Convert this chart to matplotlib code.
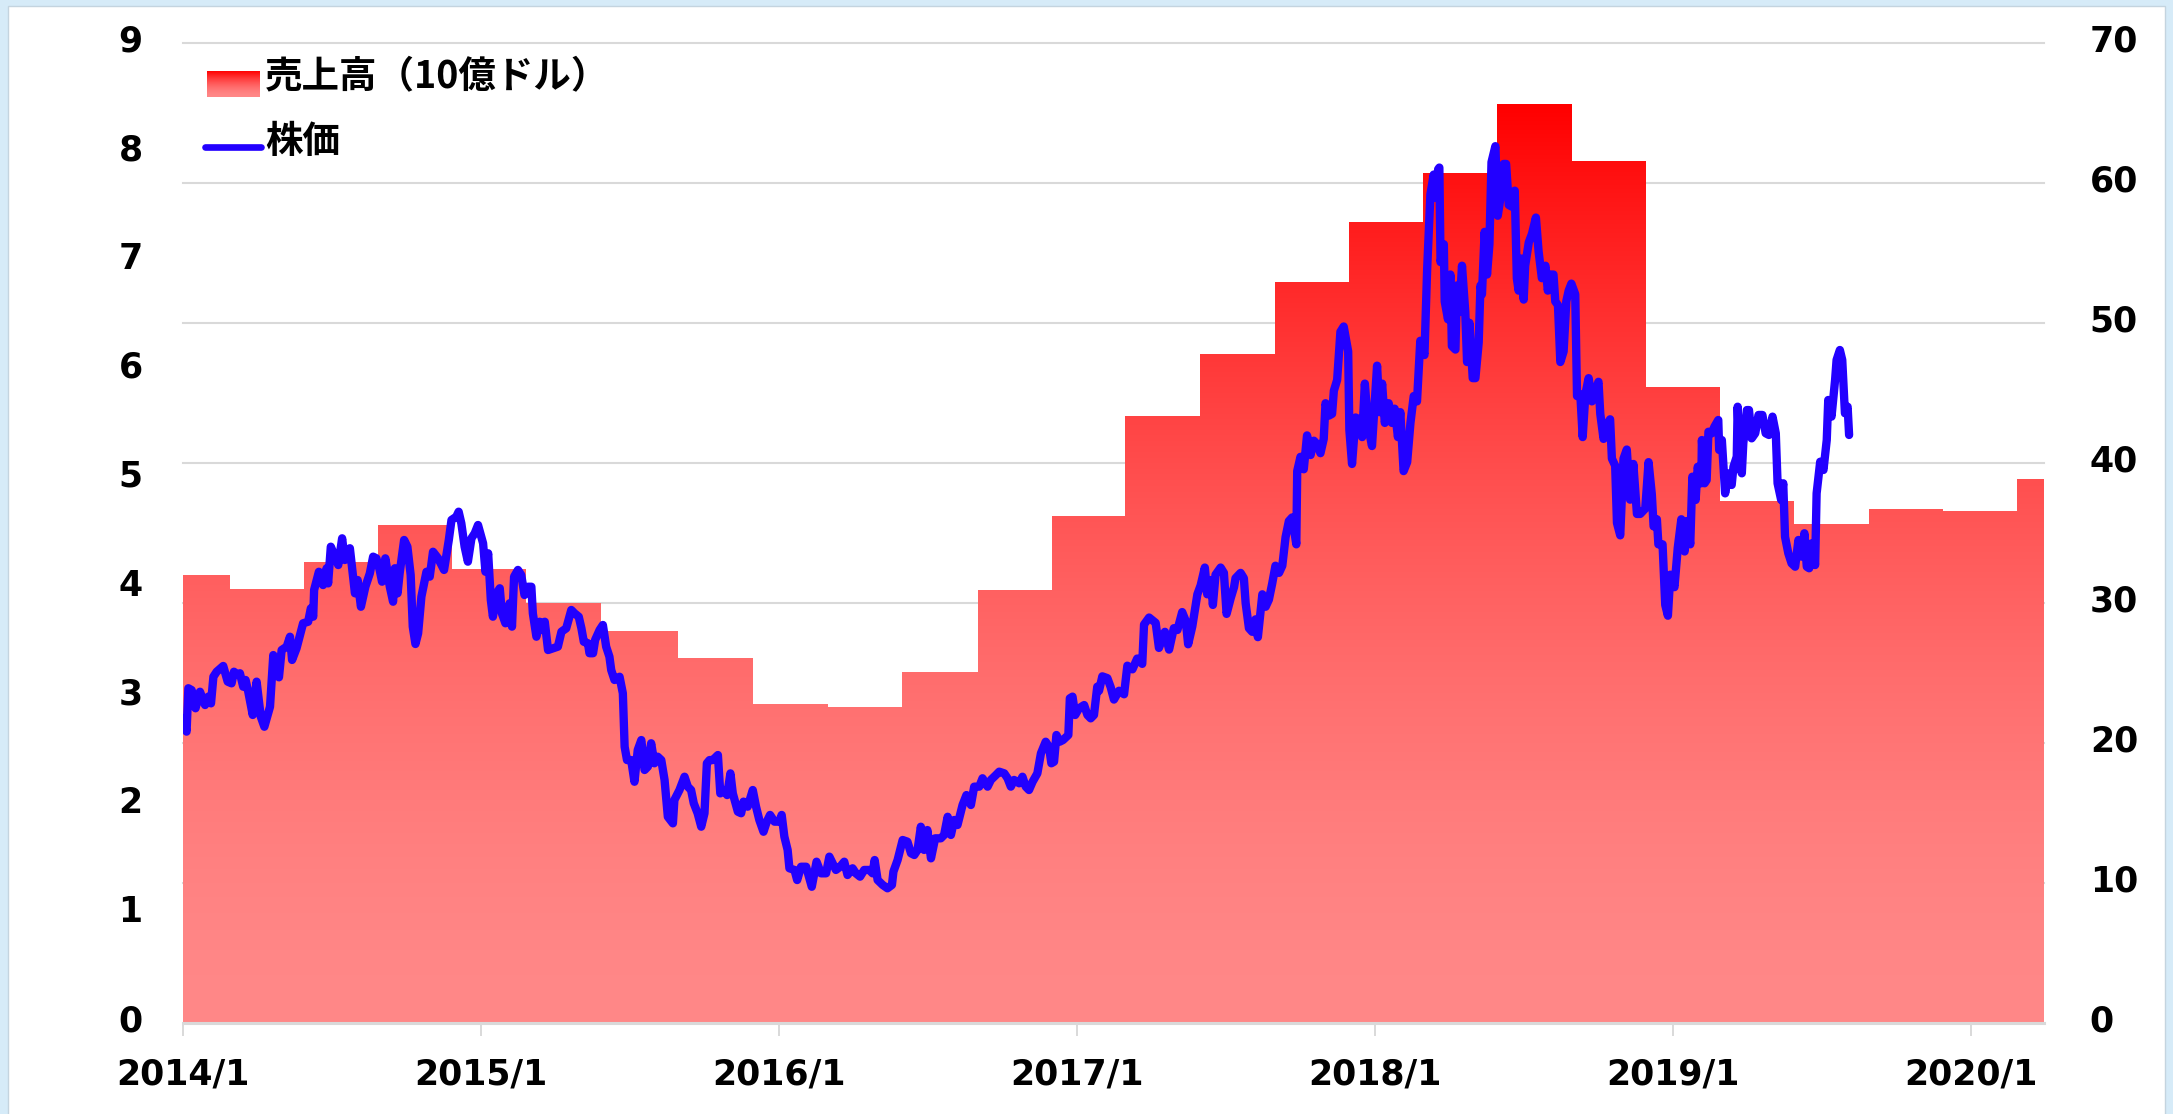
import matplotlib
matplotlib.use('Agg')

import matplotlib.pyplot as plt
import matplotlib.dates as mdates
import matplotlib.transforms as mtransforms
from matplotlib.patches import Rectangle
from matplotlib.lines import Line2D
import numpy as np
import pandas as pd

#=====Data=====
# quarterly revenue (billion USD), each value holds from its date to the next one
rev_dates = ['2014-01-01', '2014-02-27', '2014-05-29', '2014-08-28', '2014-11-27',
             '2015-02-26', '2015-05-28', '2015-08-31', '2015-12-01', '2016-03-01',
             '2016-05-31', '2016-09-01', '2016-12-01', '2017-03-01', '2017-06-01',
             '2017-08-31', '2017-11-30', '2018-03-01', '2018-05-31', '2018-08-30',
             '2018-11-29', '2019-02-28', '2019-05-30', '2019-08-29', '2019-11-28',
             '2020-02-27']
rev_values = [4.11, 3.98, 4.23, 4.57, 4.17, 3.85, 3.60, 3.35, 2.93, 2.90,
              3.22, 3.97, 4.65, 5.57, 6.14, 6.80, 7.35, 7.80, 8.44, 7.91,
              5.84, 4.79, 4.58, 4.72, 4.70, 4.99]
rev_end = '2020-03-31'

# share price: time in years since 2014/1/1, price in USD
price_years = [
    0.001, 0.012, 0.018, 0.029, 0.042, 0.057, 0.074, 0.085, 0.094, 0.102, 0.113, 0.135,
    0.150, 0.163, 0.171, 0.183, 0.191, 0.202, 0.210, 0.219, 0.234, 0.247, 0.261, 0.273,
    0.292, 0.303, 0.314, 0.322, 0.331, 0.348, 0.359, 0.366, 0.381, 0.403, 0.420, 0.429,
    0.437, 0.440, 0.456, 0.470, 0.482, 0.487, 0.496, 0.510, 0.521, 0.534, 0.543, 0.560,
    0.577, 0.586, 0.597, 0.612, 0.627, 0.638, 0.649, 0.660, 0.668, 0.679, 0.694, 0.705,
    0.711, 0.720, 0.727, 0.742, 0.753, 0.764, 0.771, 0.780, 0.789, 0.800, 0.817, 0.828,
    0.839, 0.856, 0.876, 0.884, 0.892, 0.901, 0.917, 0.925, 0.934, 0.945, 0.956, 0.968,
    0.979, 0.990, 1.007, 1.015, 1.024, 1.033, 1.040, 1.052, 1.063, 1.070, 1.082, 1.096,
    1.104, 1.111, 1.124, 1.135, 1.146, 1.158, 1.169, 1.174, 1.186, 1.197, 1.202, 1.214,
    1.225, 1.241, 1.258, 1.270, 1.286, 1.303, 1.314, 1.328, 1.337, 1.345, 1.359, 1.364,
    1.376, 1.383, 1.398, 1.409, 1.420, 1.431, 1.437, 1.448, 1.465, 1.476,
    1.482, 1.490, 1.504, 1.515, 1.526, 1.538, 1.549, 1.560, 1.571, 1.582, 1.593, 1.605,
    1.616, 1.627, 1.644, 1.649, 1.666, 1.683, 1.694, 1.705, 1.714, 1.727, 1.739, 1.750,
    1.758, 1.767, 1.778, 1.795, 1.803, 1.817, 1.826, 1.837, 1.845, 1.862, 1.873, 1.881,
    1.895, 1.912, 1.923, 1.934, 1.948, 1.959, 1.970, 1.985, 2.001, 2.009, 2.018, 2.029,
    2.035, 2.052, 2.061, 2.074, 2.091, 2.110, 2.126, 2.141, 2.158, 2.169, 2.180, 2.191,
    2.205, 2.219, 2.230, 2.247, 2.258, 2.272, 2.286, 2.303, 2.314, 2.321, 2.331, 2.348,
    2.364, 2.379, 2.384, 2.398, 2.415, 2.431, 2.443, 2.454, 2.465, 2.476, 2.487, 2.498,
    2.510, 2.524, 2.543, 2.554, 2.566, 2.577, 2.588, 2.599, 2.616, 2.629, 2.644, 2.655,
    2.672, 2.683, 2.700, 2.711, 2.728, 2.739, 2.756, 2.767, 2.778, 2.789, 2.806, 2.817,
    2.828, 2.839, 2.851, 2.867, 2.879, 2.895, 2.906, 2.914, 2.923, 2.931, 2.942, 2.953,
    2.971, 2.976, 2.985, 2.994, 3.007, 3.024, 3.035, 3.046, 3.057, 3.068,
    3.074, 3.085, 3.102, 3.113, 3.124, 3.141, 3.158, 3.169, 3.186, 3.202, 3.219, 3.225,
    3.242, 3.264, 3.275, 3.295, 3.309, 3.325, 3.337, 3.353, 3.365, 3.373, 3.387, 3.404,
    3.415, 3.429, 3.437, 3.449, 3.456, 3.465, 3.482, 3.493, 3.502, 3.516, 3.527, 3.532,
    3.549, 3.560, 3.566, 3.577, 3.588, 3.599, 3.607, 3.622, 3.633, 3.644, 3.655, 3.666,
    3.678, 3.689, 3.700, 3.711, 3.722, 3.736, 3.739, 3.750, 3.761, 3.772, 3.784, 3.795,
    3.806, 3.817, 3.828, 3.834, 3.845, 3.856, 3.862, 3.873, 3.884, 3.895, 3.910, 3.914,
    3.923, 3.935, 3.946, 3.957, 3.966, 3.977, 3.990, 4.007, 4.015, 4.024, 4.033, 4.046,
    4.057, 4.066, 4.077, 4.085, 4.096, 4.108, 4.119, 4.130, 4.141, 4.152, 4.166, 4.175,
    4.186,
    4.197, 4.205, 4.212, 4.216, 4.220, 4.231, 4.234, 4.245, 4.253, 4.258, 4.270, 4.275,
    4.283, 4.292, 4.303, 4.309, 4.317, 4.328, 4.337, 4.348, 4.354, 4.359, 4.368, 4.376,
    4.384, 4.391, 4.404, 4.412, 4.421, 4.432, 4.440, 4.449, 4.460, 4.469, 4.476, 4.482,
    4.491, 4.499, 4.504, 4.516, 4.527, 4.540, 4.549, 4.560, 4.572, 4.580, 4.588, 4.599,
    4.605, 4.614, 4.622, 4.633, 4.642, 4.650, 4.659, 4.672, 4.678, 4.689, 4.697, 4.706,
    4.717, 4.728, 4.739, 4.750, 4.756, 4.767, 4.778, 4.789, 4.795, 4.806, 4.812, 4.823,
    4.834, 4.845, 4.856, 4.867, 4.879, 4.890, 4.907, 4.918, 4.929, 4.935, 4.946, 4.951,
    4.965, 4.974, 4.983, 4.991, 5.005, 5.016, 5.028, 5.039, 5.046, 5.058,
    5.065, 5.076, 5.083, 5.095, 5.097, 5.106, 5.113, 5.119, 5.130, 5.139, 5.152, 5.155,
    5.164, 5.175, 5.186, 5.197, 5.203, 5.214, 5.217, 5.225, 5.231, 5.236, 5.248, 5.255,
    5.264, 5.276, 5.287, 5.300, 5.311, 5.322, 5.334, 5.345, 5.351, 5.363, 5.370, 5.376,
    5.387, 5.398, 5.410, 5.421, 5.432, 5.441, 5.449, 5.457, 5.465, 5.477, 5.482, 5.494,
    5.505, 5.516, 5.521, 5.532, 5.544, 5.549, 5.560, 5.568, 5.577, 5.586, 5.591]
price_values = [
    21.74, 20.79, 23.89, 23.76, 22.46, 23.64, 22.69, 23.29, 22.81, 24.71, 25.07, 25.48,
    24.36, 24.24, 25.07, 24.84, 24.96, 24.00, 24.48, 23.64, 21.98, 24.36, 21.86, 21.14,
    22.57, 26.26, 25.19, 24.67, 26.62, 26.86, 27.57, 25.91, 26.74, 28.53, 28.64, 29.60,
    29.00, 30.91, 32.21, 31.26, 32.46, 31.38, 34.00, 33.29, 32.69, 34.60, 33.05, 33.89,
    30.67, 31.62, 29.71, 31.14, 32.10, 33.29, 33.17, 32.34, 31.50, 33.17, 31.14, 30.07,
    32.46, 30.67, 32.10, 34.48, 34.00, 31.98, 28.29, 27.05, 27.81, 30.43, 32.21, 31.86,
    33.64, 33.17, 32.34, 33.41, 34.48, 35.91, 36.14, 36.50, 35.67, 34.00, 32.93, 34.60,
    34.96, 35.55, 34.24, 32.21, 33.53, 30.19, 29.00, 30.67, 31.03, 29.24, 28.53, 29.96,
    28.29, 31.86, 32.34, 31.98, 30.55, 31.14, 31.14, 29.24, 27.57, 28.64, 28.05, 28.64,
    26.62, 26.74, 26.86, 27.93, 28.17, 29.48, 29.24, 29.00, 28.17, 27.21, 27.10, 26.39,
    26.39, 27.34, 28.05, 28.41, 26.86, 26.14, 25.19, 24.48, 24.71, 23.53,
    19.71, 18.76, 18.76, 17.21, 19.48, 20.19, 18.05, 18.29, 19.96, 18.53, 19.00, 18.76,
    17.34, 14.71, 14.24, 15.91, 16.62, 17.57, 16.86, 16.62, 15.67, 14.96, 14.00, 14.96,
    18.53, 18.76, 18.76, 19.12, 16.38, 16.62, 16.26, 17.81, 16.38, 15.07, 14.96, 15.79,
    15.43, 16.62, 15.43, 14.48, 13.64, 14.36, 14.84, 14.36, 14.36, 14.84, 13.29, 12.34,
    11.03, 10.91, 10.19, 11.14, 11.14, 9.71, 11.50, 10.67, 10.67, 11.86, 11.38, 10.91,
    11.14, 11.50, 10.55, 11.03, 10.67, 10.43, 10.91, 10.91, 10.67, 11.62, 10.19, 9.84,
    9.60, 9.84, 10.79, 11.62, 13.05, 12.93, 12.10, 11.98, 12.34, 14.00, 12.34, 13.76,
    11.74, 13.17, 13.17, 13.41, 14.71, 13.41, 14.48, 14.12, 15.55, 16.26, 15.55, 16.86,
    16.86, 17.46, 16.86, 17.34, 17.69, 17.93, 17.81, 17.46, 16.86, 17.34, 17.10, 17.57,
    16.86, 16.62, 17.21, 17.81, 19.24, 20.07, 19.71, 18.53, 18.64, 20.55, 20.07, 20.19,
    20.55, 23.17, 23.29, 21.98, 22.46, 22.69, 21.98, 21.74, 21.98, 24.00,
    23.71, 24.74, 24.61, 23.97, 23.08, 23.71, 23.46, 25.50, 25.24, 26.01, 25.63, 28.44,
    28.94, 28.56, 26.77, 27.92, 26.65, 28.18, 28.05, 29.33, 28.69, 27.03, 28.31, 30.60,
    31.24, 32.51, 30.60, 31.62, 29.84, 32.00, 32.51, 32.13, 29.20, 30.34, 31.11, 31.75,
    32.13, 31.75, 29.96, 28.18, 27.92, 28.81, 27.54, 30.60, 29.71, 30.22, 31.36, 32.64,
    32.13, 32.64, 34.69, 35.83, 36.09, 34.17, 39.40, 40.42, 39.53, 41.95, 40.55, 41.57,
    41.31, 40.68, 41.70, 44.25, 43.36, 43.49, 45.14, 45.91, 49.35, 49.73, 47.95, 42.34,
    39.91, 43.23, 43.10, 41.83, 45.65, 42.59, 41.19, 46.93, 43.61, 45.65, 42.84, 44.25,
    42.84, 43.86, 41.83, 43.61, 39.40, 40.04, 42.84, 44.76, 44.38, 48.71, 47.69, 53.81,
    59.17,
    60.58, 58.91, 60.96, 61.08, 54.33, 55.60, 51.52, 50.24, 53.44, 48.33, 48.08, 52.66,
    50.76, 54.07, 50.76, 47.19, 49.99, 46.04, 46.04, 48.59, 52.66, 52.03, 56.49, 53.44,
    55.60, 61.47, 62.61, 57.64, 58.91, 61.34, 61.34, 58.41, 58.28, 59.43, 53.18, 52.29,
    54.58, 51.65, 54.07, 55.73, 56.36, 57.51, 55.09, 53.18, 54.07, 52.29, 53.44, 53.44,
    51.52, 51.26, 47.19, 47.95, 51.52, 52.29, 52.79, 52.03, 44.76, 44.89, 41.83, 44.89,
    46.04, 44.38, 45.14, 45.78, 43.49, 41.70, 42.72, 43.10, 40.29, 39.79, 35.70, 34.81,
    40.29, 40.94, 37.36, 39.91, 36.34, 36.34, 36.72, 40.04, 37.74, 35.45, 35.96, 34.17,
    34.17, 29.84, 29.07, 32.00, 31.11, 33.91, 35.96, 33.66, 35.83, 34.17,
    39.00, 37.34, 39.71, 38.53, 41.62, 38.53, 38.76, 42.21, 42.10, 42.57, 43.05, 40.91,
    41.62, 37.81, 39.24, 38.41, 39.71, 40.43, 44.00, 39.71, 39.24, 41.39, 43.76, 43.76,
    41.74, 42.10, 43.41, 43.41, 42.10, 41.98, 43.29, 42.10, 38.53, 37.34, 38.53, 34.71,
    33.53, 32.81, 32.57, 34.48, 33.29, 34.96, 32.57, 32.46, 34.24, 32.69, 37.81, 40.07,
    39.48, 41.62, 44.48, 43.29, 45.91, 47.34, 48.05, 47.34, 43.53, 44.00, 41.98]

year_ticks = ['2014-01-01', '2015-01-01', '2016-01-01', '2017-01-01',
              '2018-01-01', '2019-01-01', '2020-01-01']
year_labels = ['2014/1', '2015/1', '2016/1', '2017/1', '2018/1', '2019/1', '2020/1']
rev_ticks = list(range(0, 10))
price_ticks = list(range(0, 80, 10))

legend_rev = '売上高（10億ドル）'
legend_price = '株価'
#==============

W, H = 2173, 1114
DPI = 100
LINE_BLUE = '#2200ff'
GRID_GREY = '#d9d9d9'
TICK_FONT = dict(family='DejaVu Sans', weight='bold', size=25)
JP_FONT = ['Noto Sans CJK JP', 'DejaVu Sans']


def gradient_colors(n=256, power=1.65):
    # red at the top of the highest quarter, pale pink at zero
    lv = np.linspace(0, 1, n)
    g = 136 / 255 * (1 - lv ** power)
    return np.stack([np.ones_like(lv), g, g], axis=-1)[:, None, :]


fig = plt.figure(figsize=(W / DPI, H / DPI), dpi=DPI)
fig.patch.set_facecolor('#d6ebf8')
fig.add_artist(Rectangle((8 / W, -0.01), (2165 - 8) / W, 1 - 6 / H + 0.01,
                         transform=fig.transFigure, facecolor='white',
                         edgecolor='#c4d4df', lw=1, zorder=-1))

ax = fig.add_axes([183 / W, 1 - 1022.7 / H, (2044 - 183) / W, (1022.7 - 42.7) / H])
ax2 = ax.twinx()

# revenue step area with vertical gradient
x_rev = pd.to_datetime(rev_dates + [rev_end])
y_rev = rev_values + [rev_values[-1]]
poly = ax.fill_between(x_rev, y_rev, step='post', facecolor='none', edgecolor='none')
x0 = mdates.date2num(x_rev[0])
x1 = mdates.date2num(x_rev[-1])
im = ax.imshow(gradient_colors(), extent=[x0, x1, 0, max(rev_values)],
               origin='lower', aspect='auto', zorder=1, interpolation='bilinear')
im.set_clip_path(poly.get_paths()[0], transform=ax.transData)

# share price line
price_dates = pd.Timestamp('2014-01-01') + pd.to_timedelta(np.array(price_years) * 365.25, unit='D')
ax2.plot(price_dates, price_values, color=LINE_BLUE, lw=6,
         solid_joinstyle='round', solid_capstyle='round', zorder=3)

# limits
ax.set_xlim(pd.Timestamp('2014-01-01'), pd.Timestamp(rev_end))
ax.set_ylim(0, 9)
ax2.set_ylim(0, 70)

# horizontal grid follows the right axis, drawn below the area
grid_trans = mtransforms.blended_transform_factory(ax.transAxes, ax2.transData)
for v in price_ticks[1:]:
    ax.plot([0, 1], [v, v], transform=grid_trans, color=GRID_GREY, lw=1.5,
            zorder=0.5, clip_on=False)

# axes styling
for a in (ax, ax2):
    for s in a.spines.values():
        s.set_visible(False)
ax.spines['bottom'].set_visible(True)
ax.spines['bottom'].set_color(GRID_GREY)
ax.spines['bottom'].set_linewidth(2.2)
ax.spines['bottom'].set_zorder(2.5)

ax.set_xticks(pd.to_datetime(year_ticks))
ax.set_xticklabels(year_labels, fontdict=TICK_FONT)
ax.set_yticks(rev_ticks)
ax.set_yticklabels([str(t) for t in rev_ticks], fontdict=TICK_FONT)
ax2.set_yticks(price_ticks)
ax2.set_yticklabels([str(t) for t in price_ticks], fontdict=TICK_FONT)

ax.tick_params(axis='x', length=9, width=1.4, color=GRID_GREY, direction='out', pad=16)
ax.tick_params(axis='y', length=0, pad=29)
ax2.tick_params(axis='y', length=0, pad=33)

# labels sit slightly above their ticks in the original
nudge = mtransforms.ScaledTranslation(0, 5 / DPI, fig.dpi_scale_trans)
for lbl in ax.get_yticklabels() + ax2.get_yticklabels():
    lbl.set_transform(lbl.get_transform() + nudge)

# legend drawn by hand (gradient swatch + line)
sw = fig.add_axes([206.7 / W, 1 - 96.7 / H, 52.2 / W, 25.7 / H])
sw.imshow(gradient_colors(), origin='lower', aspect='auto', extent=[0, 1, 0, 1])
sw.set_axis_off()
fig.add_artist(Line2D([205 / W, 261 / W], [1 - 146.7 / H, 1 - 146.7 / H],
                      transform=fig.transFigure, color=LINE_BLUE, lw=4.8,
                      solid_capstyle='round'))
fig.text(265 / W, 1 - 77 / H, legend_rev, family=JP_FONT, weight='bold',
         fontsize=27, va='center', ha='left')
fig.text(265 / W, 1 - 141 / H, legend_price, family=JP_FONT, weight='bold',
         fontsize=27, va='center', ha='left')

fig.savefig('out.png', dpi=DPI, facecolor=fig.get_facecolor())
